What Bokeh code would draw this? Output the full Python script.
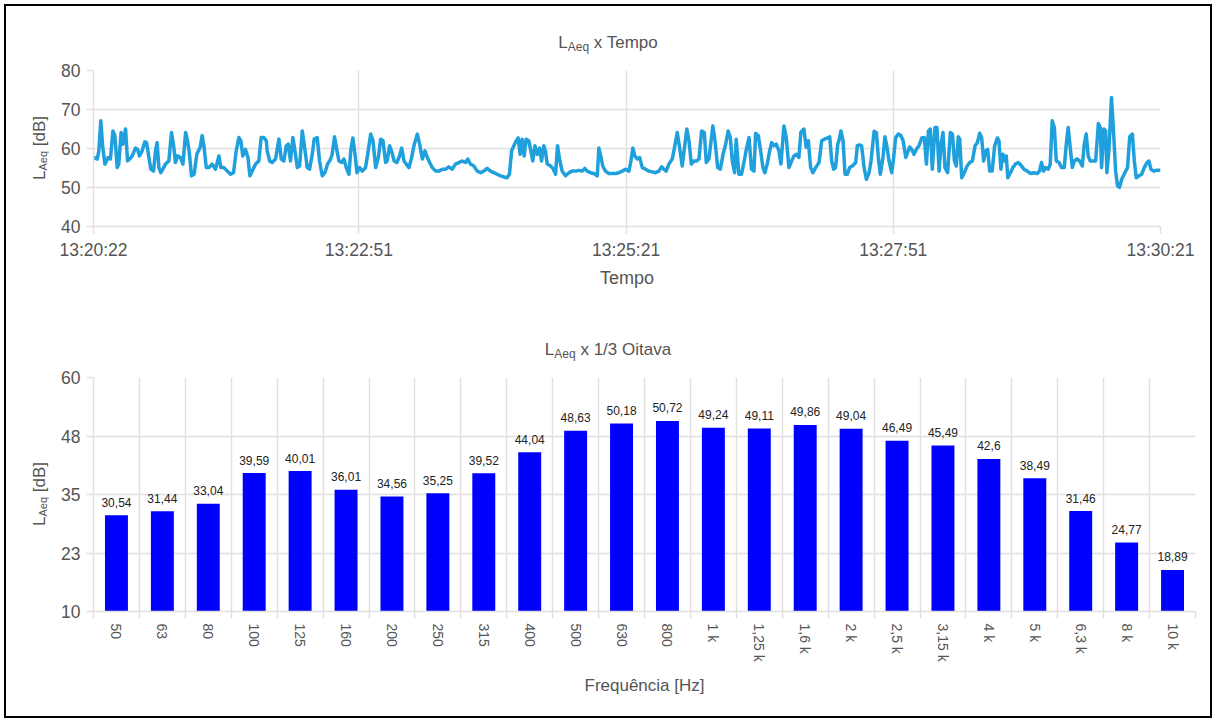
import math
from bokeh.plotting import figure
from bokeh.models import FixedTicker, Range1d, CustomJSTickFormatter, Div
from bokeh.layouts import column, row
from bokeh.embed import file_html
from bokeh.resources import INLINE
from bokeh.core.properties import value

# ---------------- DATA ----------------
# L_Aeq x Tempo (seconds since 13:20:22, dB)
t_seg1 = [0, 2.1, 3.0, 4.1, 5.2, 6.4, 7.3, 8.2, 9.5, 10.9, 12.0, 13.3, 14.2, 15.5, 16.5, 18.0, 19.1, 20.4, 21.7, 23.6,
          24.7, 25.8, 27.3, 28.8, 29.8, 31.1, 32.2, 33.7, 34.8, 35.7, 36.7, 37.8, 38.9, 40.4, 42.3, 43.8, 45.1, 46.0,
          47.2, 48.8, 50.2, 51.7, 52.8, 53.9, 55.0, 56.5, 58.0, 59.9, 61.0, 62.1, 63.3, 64.8, 66.6, 68.5, 70.4, 71.5,
          73.2, 75.1, 76.9, 78.6, 80.1, 81.6, 82.7, 83.8, 85.3, 86.7, 87.8, 89.1, 91.0, 92.8, 94.1, 95.6, 97.0]
v_seg1 = [57.7, 57.3, 59.4, 67.1, 60.3, 56.0, 56.8, 57.7, 57.3, 64.5, 63.3, 55.1, 56.0, 64.1, 61.1, 65.0, 56.8, 57.3,
          58.1, 60.1, 59.8, 58.1, 59.4, 61.7, 61.5, 57.7, 54.7, 54.2, 59.4, 61.5, 55.1, 53.8, 54.7, 56.0, 56.8, 64.1,
          60.3, 56.4, 58.1, 57.7, 56.0, 64.1, 62.0, 58.5, 53.0, 53.4, 58.5, 60.3, 63.3, 60.3, 55.1, 55.1, 56.0, 54.7,
          58.1, 55.1, 55.1, 54.2, 53.4, 53.8, 59.4, 62.8, 62.0, 58.1, 59.8, 57.7, 53.0, 54.2, 56.0, 56.8, 62.8, 62.8,
          62.0]
t_seg2 = [97.5, 98.9, 100.3, 102.2, 104.1, 105.4, 106.9, 108.2, 109.3, 110.6, 111.9, 113.1, 114.4, 115.7, 117.2,
          118.5, 120.0, 121.3, 122.8, 123.9, 125.6, 126.9, 128.4, 129.9, 131.4, 133.1, 134.0, 135.3, 136.7, 137.8,
          139.3, 140.6, 141.9, 143.4, 144.5, 145.6, 146.8, 147.9, 149.4, 150.9, 152.7, 154.1, 155.6, 156.9, 158.4,
          159.9, 161.2, 162.5, 164.0, 164.9, 166.2, 167.3, 168.8, 170.3, 171.5, 173.0, 174.3, 175.6, 177.1, 178.6,
          180.1, 181.8, 183.1, 184.6, 186.1, 187.4, 188.7, 190.2, 192.1, 193.9, 195.8, 197.7, 199.5]
v_seg2 = [59.4, 56.8, 56.4, 57.3, 62.4, 57.3, 56.8, 60.7, 61.1, 56.8, 62.8, 59.4, 55.1, 55.5, 64.5, 60.3, 55.1, 54.7,
          58.5, 62.4, 62.8, 56.8, 53.0, 53.8, 56.0, 57.3, 58.5, 63.0, 59.4, 56.8, 56.4, 57.3, 55.1, 53.4, 59.8, 62.7,
          58.5, 53.8, 55.1, 54.2, 55.1, 59.0, 63.7, 62.0, 55.1, 57.7, 62.4, 62.0, 56.4, 56.8, 60.7, 59.4, 56.8, 56.4,
          57.7, 60.1, 56.8, 56.0, 55.1, 57.7, 61.1, 63.7, 61.1, 57.3, 59.4, 57.7, 56.4, 55.1, 54.2, 54.2, 54.7, 54.7,
          55.3]
t_seg3 = [201.3, 203.2, 205.1, 207.0, 208.8, 210.1, 211.6, 213.5, 215.4, 217.3, 219.1, 221.0, 222.9, 224.7, 226.6,
          228.5, 230.4, 232.2, 233.5, 234.7, 236.0, 237.3, 238.4, 239.5, 240.6, 241.8, 242.9, 244.4, 245.5, 246.6,
          247.8, 249.1, 250.4, 251.5, 252.8, 253.7, 254.7, 256.6, 257.9, 259.4, 260.5, 261.8, 263.1, 265.0, 266.9,
          268.7, 270.6, 272.5, 274.3, 275.8, 277.1, 279.0, 280.9, 282.8, 283.7, 284.8, 285.9, 287.4, 289.3, 291.2,
          293.1, 294.9, 296.8, 298.7]
v_seg3 = [54.7, 56.0, 56.4, 56.8, 56.4, 57.3, 56.0, 55.5, 54.2, 53.8, 54.2, 54.9, 54.2, 53.8, 53.4, 53.0, 52.7, 52.5,
          53.4, 59.4, 60.7, 62.0, 62.7, 58.5, 62.4, 58.1, 62.4, 62.0, 59.4, 56.8, 60.7, 58.5, 60.1, 56.8, 60.7, 59.4,
          56.0, 55.5, 54.9, 53.4, 60.7, 56.8, 54.2, 53.0, 53.8, 54.2, 54.2, 54.4, 54.2, 54.9, 54.2, 53.8, 53.6, 53.0,
          60.1, 58.1, 55.5, 54.2, 53.6, 53.6, 53.6, 53.8, 54.2, 54.7]
t_seg4 = [300.6, 301.7, 302.8, 303.9, 305.2, 306.6, 308.1, 309.9, 311.8, 313.7, 315.5, 317.4, 318.9, 320.2, 321.5,
          323.0, 324.9, 326.2, 327.7, 329.0, 330.5, 331.8, 333.1, 334.3, 335.6, 337.1, 338.6, 339.9, 341.4, 342.9,
          344.0, 345.5, 347.7, 348.9, 350.4, 351.9, 353.4, 354.9, 356.3, 357.5, 358.6, 359.9, 360.8, 362.3, 363.8,
          365.3, 366.5, 368.0, 369.4, 370.8, 371.7, 373.2, 374.5, 375.8, 376.9, 378.2, 379.6, 380.7, 382.0, 383.3,
          384.8, 385.9, 387.6, 388.9, 390.4, 391.9, 393.2, 394.5, 396.0, 397.1, 398.8, 400.1]
v_seg4 = [54.2, 56.8, 60.1, 58.1, 57.3, 57.7, 55.1, 54.7, 54.2, 54.0, 53.8, 54.2, 55.3, 54.7, 54.2, 56.0, 57.3, 60.3,
          64.1, 60.3, 55.5, 60.3, 65.0, 62.0, 56.0, 56.8, 56.8, 57.3, 64.5, 64.1, 56.4, 57.3, 65.8, 62.0, 55.1, 54.7,
          58.5, 61.1, 64.5, 62.8, 56.8, 53.8, 62.4, 53.4, 53.4, 56.8, 59.8, 62.8, 54.7, 54.2, 63.9, 63.3, 59.4, 55.1,
          53.8, 56.0, 59.4, 61.5, 60.7, 61.1, 59.4, 56.0, 65.8, 62.8, 55.1, 56.8, 58.1, 58.5, 57.7, 64.1, 65.0, 60.3]
t_seg5 = [401.3, 402.6, 403.9, 405.4, 407.3, 408.8, 410.3, 412.0, 413.3, 414.4, 415.5, 416.6, 417.8, 418.5, 419.6,
          420.8, 421.9, 423.2, 424.5, 426.0, 427.9, 428.8, 430.1, 431.2, 432.6, 433.9, 435.4, 436.5, 438.2, 439.5,
          440.6, 441.7, 443.2, 444.3, 445.5, 446.6, 448.1, 449.2, 450.3, 451.8, 453.3, 454.5, 456.0, 457.1, 458.2,
          459.3, 460.6, 462.0, 463.4, 465.0, 466.4, 467.6, 468.7, 469.8, 470.9, 472.4, 473.5, 474.7, 475.8, 476.9,
          478.0, 479.5, 481.0, 482.2, 483.3, 484.4, 485.5, 486.3, 487.4, 488.9, 490.4, 491.9, 493.4, 494.9, 496.2,
          497.5, 498.6, 499.7, 500.9, 502.0, 503.1]
v_seg5 = [62.0, 55.1, 53.8, 55.1, 56.4, 62.0, 62.4, 62.7, 63.0, 56.8, 54.7, 55.1, 61.1, 62.0, 64.5, 62.0, 53.4, 53.4,
          55.1, 55.5, 56.4, 60.7, 60.9, 60.7, 55.1, 52.1, 53.8, 56.8, 64.4, 64.1, 57.7, 53.4, 57.7, 63.0, 60.3, 56.8,
          53.8, 57.7, 62.8, 63.7, 63.3, 62.0, 57.7, 59.0, 60.4, 59.8, 58.5, 59.8, 60.7, 62.7, 62.8, 56.0, 64.5, 65.0,
          54.7, 65.4, 65.4, 54.2, 61.1, 64.1, 55.1, 53.8, 64.1, 63.7, 56.8, 55.5, 63.0, 62.4, 52.5, 53.8, 55.5, 56.4,
          56.8, 60.7, 61.5, 63.9, 62.8, 56.8, 59.4, 59.8, 54.2]
t_seg6 = [504.5, 505.9, 507.4, 508.3, 509.4, 510.5, 511.7, 512.4, 513.3, 514.8, 516.1, 517.6, 519.1, 520.5, 522.3,
          524.2, 526.1, 527.9, 529.8, 531.1, 532.2, 533.4, 534.5, 536.0, 537.1, 538.2, 539.4, 540.5, 542.0, 543.5,
          545.0, 546.1, 547.2, 548.3, 549.5, 550.6, 552.1, 553.6, 555.1, 556.2, 557.3, 558.4, 559.6, 561.1, 562.6,
          564.1, 565.2, 565.9, 567.2, 568.2, 568.9, 570.0, 571.5, 572.7, 573.8, 574.9, 576.0, 577.2, 579.0, 580.5,
          581.7, 583.2, 584.3, 585.4, 586.9, 588.4, 589.9, 591.4, 592.5, 593.6, 595.3, 596.6, 598.1, 599]
v_seg6 = [54.2, 60.7, 62.7, 62.0, 54.7, 58.5, 56.8, 58.1, 52.5, 53.8, 55.1, 56.0, 56.4, 55.8, 54.7, 54.2, 53.6, 53.8,
          53.6, 54.2, 56.4, 54.2, 55.1, 54.7, 56.0, 67.1, 65.4, 56.8, 56.4, 55.1, 55.1, 61.1, 65.4, 60.3, 55.1, 56.8,
          57.3, 56.8, 55.5, 61.1, 63.7, 58.1, 56.8, 56.8, 56.8, 66.4, 65.4, 55.1, 65.0, 64.5, 53.8, 59.4, 73.1, 63.7,
          54.2, 50.4, 50.0, 52.1, 53.8, 55.1, 63.0, 63.7, 56.8, 52.5, 53.0, 53.4, 55.1, 56.4, 56.8, 54.7, 54.2, 54.4,
          54.4, 54.4]

time_ticks = [0, 149, 299, 449, 599]
time_tick_labels = ["13:20:22", "13:22:51", "13:25:21", "13:27:51", "13:30:21"]
laeq_time_ticks = [40, 50, 60, 70, 80]

# L_Aeq x 1/3 Oitava
bandas = ["50", "63", "80", "100", "125", "160", "200", "250", "315", "400", "500", "630", "800",
          "1 k", "1,25 k", "1,6 k", "2 k", "2,5 k", "3,15 k", "4 k", "5 k", "6,3 k", "8 k", "10 k"]
laeq_banda = [30.54, 31.44, 33.04, 39.59, 40.01, 36.01, 34.56, 35.25, 39.52, 44.04, 48.63, 50.18, 50.72,
              49.24, 49.11, 49.86, 49.04, 46.49, 45.49, 42.6, 38.49, 31.46, 24.77, 18.89]
banda_y_ticks = [10, 22.5, 35, 47.5, 60]

# ---------------- STYLE ----------------
FONT = "Liberation Sans"
TXT = "#555555"
GRID = "#e0e0e0"
LINE = "#1fa0dc"
BAR = "#0000ff"

W = 1204          # inner width of the framed page
YL = 52           # width of the y-label strip
TH = 50           # height of each title strip
H1 = 260
H2 = 350


def sub(size):
    return f'<span style="font-size:{size}px; vertical-align:-3px;">Aeq</span>'


def title_div(main_after, pad_top):
    html = (f'<div style="width:{W}px; padding-top:{pad_top}px; text-align:center; '
            f'font-family:\'{FONT}\'; font-size:17px; line-height:19px; color:{TXT}; white-space:nowrap;">'
            f'L{sub(12)}{main_after}</div>')
    return Div(text=html, width=W, height=TH, margin=(0, 0, 0, 0))


def ylabel_div(height, center_from_top):
    html = (f'<div style="height:{2 * center_from_top}px; display:flex; align-items:center; padding-left:24px;">'
            f'<div style="writing-mode:vertical-rl; transform:rotate(180deg); font-family:\'{FONT}\'; '
            f'font-size:17px; line-height:20px; color:{TXT}; white-space:nowrap;">L{sub(11)} [dB]</div></div>')
    return Div(text=html, width=YL, height=height, margin=(0, 0, 0, 0))


def style_axes(p):
    for ax in (p.xaxis[0], p.yaxis[0]):
        ax.axis_line_color = GRID
        ax.axis_line_width = 1.5
        ax.major_tick_line_color = GRID
        ax.major_tick_line_width = 1.5
        ax.major_tick_in = 0
        ax.major_tick_out = 7
        ax.minor_tick_line_color = None
        ax.major_label_text_color = TXT
        ax.major_label_text_font = FONT
        ax.axis_label_text_color = TXT
        ax.axis_label_text_font = FONT
        ax.axis_label_text_font_style = "normal"
    for g in (p.xgrid[0], p.ygrid[0]):
        g.grid_line_color = GRID
        g.grid_line_width = 1.5
    p.outline_line_color = None


# ---------------- TOP: L_Aeq x Tempo ----------------
tempo = t_seg1 + t_seg2 + t_seg3 + t_seg4 + t_seg5 + t_seg6
laeq = v_seg1 + v_seg2 + v_seg3 + v_seg4 + v_seg5 + v_seg6

p1 = figure(width=W - YL, height=H1, output_backend="svg", toolbar_location=None, title=None,
            x_range=Range1d(0, 599), y_range=Range1d(40, 80),
            min_border_left=35, min_border_right=50, min_border_top=14, min_border_bottom=90)
p1.line(tempo, laeq, line_color=LINE, line_width=3.5, line_join="round")
style_axes(p1)
p1.xaxis.ticker = FixedTicker(ticks=time_ticks)
p1.xgrid.ticker = FixedTicker(ticks=time_ticks)
p1.xaxis.formatter = CustomJSTickFormatter(args=dict(tk=time_ticks, lb=time_tick_labels),
                                           code="const i = tk.indexOf(tick); return i >= 0 ? lb[i] : '';")
p1.yaxis.ticker = FixedTicker(ticks=laeq_time_ticks)
p1.ygrid.ticker = FixedTicker(ticks=laeq_time_ticks)
p1.xaxis.major_label_text_font_size = "17.5px"
p1.yaxis.major_label_text_font_size = "17.5px"
p1.xaxis.major_label_standoff = 6
p1.yaxis.major_label_standoff = 6
p1.xaxis.axis_label = "Tempo"
p1.xaxis.axis_label_text_font_size = "18px"
p1.xaxis.axis_label_standoff = 5

# ---------------- BOTTOM: L_Aeq x 1/3 Oitava ----------------
n = len(bandas)
centers = [i + 0.5 for i in range(n)]
edges = list(range(n + 1))
val_labels = [f"{v:g}".replace(".", ",") for v in laeq_banda]

p2 = figure(width=W - YL, height=H2, output_backend="svg", toolbar_location=None, title=None,
            x_range=Range1d(0, n), y_range=Range1d(10, 60),
            min_border_left=35, min_border_right=15, min_border_top=11, min_border_bottom=105)
p2.vbar(x=centers, top=laeq_banda, bottom=10, width=0.5, fill_color=BAR, line_color=None)
p2.text(x=centers, y=laeq_banda, text=val_labels, text_align="center", text_baseline="alphabetic",
        y_offset=-13, text_font=value(FONT), text_font_size="12px", text_color="#222222")
style_axes(p2)
p2.xaxis.ticker = FixedTicker(ticks=centers, minor_ticks=edges)
p2.xgrid.ticker = FixedTicker(ticks=edges)
p2.xaxis.formatter = CustomJSTickFormatter(args=dict(lb=bandas), code="return lb[Math.floor(tick)];")
p2.xaxis.major_tick_line_color = None
p2.xaxis.minor_tick_line_color = GRID
p2.xaxis.minor_tick_line_width = 1.5
p2.xaxis.minor_tick_in = 0
p2.xaxis.minor_tick_out = 7
p2.xaxis.major_label_orientation = -math.pi / 2
p2.xaxis.major_label_text_font_size = "14px"
p2.xaxis.major_label_standoff = 5
p2.yaxis.ticker = FixedTicker(ticks=banda_y_ticks)
p2.ygrid.ticker = FixedTicker(ticks=banda_y_ticks)
p2.yaxis.formatter = CustomJSTickFormatter(code="return Math.round(tick).toString();")
p2.yaxis.major_label_text_font_size = "17.5px"
p2.yaxis.major_label_standoff = 6
p2.xaxis.axis_label = "Frequência [Hz]"
p2.xaxis.axis_label_text_font_size = "17px"
p2.xaxis.axis_label_standoff = 11

sec1 = column(title_div(" x Tempo", 27), row(ylabel_div(H1, 92), p1))
sec2 = column(title_div(" x 1/3 Oitava", 24), row(ylabel_div(H2, 128), p2))
layout = column(sec1, sec2, styles={"border": "2px solid black", "margin": "4px"})
open("out.html", "w").write(file_html(layout, INLINE))
